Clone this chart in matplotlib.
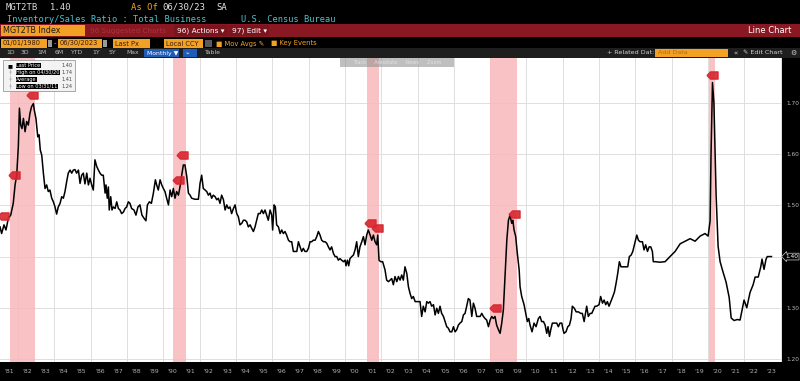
import numpy as np
import matplotlib.pyplot as plt
from matplotlib.patches import Rectangle

# monthly-ish readings of MGT2TB (decimal year, ratio)
years = [
    1981.00, 1981.09, 1981.22, 1981.33, 1981.46, 1981.59, 1981.73, 1981.83, 1981.92, 1982.01,
    1982.07, 1982.14, 1982.21, 1982.29, 1982.38, 1982.47, 1982.56, 1982.65, 1982.74, 1982.84,
    1982.89, 1982.98, 1983.08, 1983.15, 1983.22, 1983.30, 1983.39, 1983.48, 1983.57, 1983.66,
    1983.75, 1983.85, 1983.94, 1984.03, 1984.12, 1984.21, 1984.31, 1984.40, 1984.49, 1984.58,
    1984.67, 1984.76, 1984.86, 1984.95, 1985.04, 1985.13, 1985.22, 1985.32, 1985.41, 1985.50,
    1985.59, 1985.68, 1985.78, 1985.87, 1985.96, 1986.05, 1986.14, 1986.23, 1986.33, 1986.42,
    1986.51, 1986.60, 1986.69, 1986.79, 1986.84, 1986.91, 1986.97, 1987.02, 1987.10, 1987.17,
    1987.24, 1987.34, 1987.43, 1987.52, 1987.61, 1987.70, 1987.80, 1987.89, 1987.98, 1988.07,
    1988.16, 1988.25, 1988.38, 1988.49, 1988.60, 1988.71, 1988.82, 1988.93, 1989.04, 1989.12,
    1989.23, 1989.34, 1989.45, 1989.56, 1989.63, 1989.72, 1989.82, 1989.91, 1990.00, 1990.09,
    1990.18, 1990.28, 1990.37, 1990.46, 1990.55, 1990.64, 1990.73, 1990.83, 1990.92, 1991.01,
    1991.10, 1991.19, 1991.29, 1991.38, 1991.47, 1991.56, 1991.74, 1991.93, 1992.02, 1992.11,
    1992.20, 1992.30, 1992.39, 1992.48, 1992.57, 1992.66, 1992.75, 1992.85, 1992.94, 1993.03,
    1993.12, 1993.21, 1993.31, 1993.40, 1993.49, 1993.58, 1993.67, 1993.76, 1993.86, 1993.95,
    1994.04, 1994.13, 1994.22, 1994.32, 1994.41, 1994.50, 1994.59, 1994.68, 1994.78, 1994.87,
    1994.96, 1995.05, 1995.14, 1995.23,
    1995.33, 1995.42, 1995.51, 1995.60, 1995.69, 1995.78, 1995.88, 1995.97, 1996.02, 1996.10,
    1996.17, 1996.24, 1996.34, 1996.43, 1996.52, 1996.61, 1996.70, 1996.79, 1996.89, 1996.98,
    1997.07, 1997.16, 1997.25, 1997.35, 1997.44, 1997.53, 1997.62, 1997.71, 1997.80, 1997.90,
    1997.99, 1998.08, 1998.17, 1998.26, 1998.36, 1998.45, 1998.54, 1998.63, 1998.72, 1998.82,
    1998.91, 1999.00, 1999.09, 1999.18, 1999.27, 1999.37, 1999.46, 1999.55, 1999.64, 1999.73,
    1999.82, 1999.92, 2000.01, 2000.06, 2000.14, 2000.21, 2000.28, 2000.38, 2000.47, 2000.56,
    2000.65, 2000.74, 2000.83, 2000.93, 2001.02, 2001.11, 2001.20, 2001.29, 2001.39, 2001.48,
    2001.57, 2001.66, 2001.75, 2001.81, 2001.88, 2001.97, 2002.08, 2002.21, 2002.30, 2002.40,
    2002.49, 2002.58, 2002.67, 2002.76, 2002.86, 2002.95, 2003.04, 2003.13, 2003.22, 2003.31,
    2003.41, 2003.50, 2003.59, 2003.68, 2003.77, 2003.87, 2003.96, 2004.14, 2004.23, 2004.32,
    2004.42, 2004.51, 2004.60, 2004.69, 2004.78, 2004.88, 2004.97, 2005.06, 2005.15, 2005.24,
    2005.33, 2005.43, 2005.52, 2005.61, 2005.70, 2005.79, 2005.89, 2005.98, 2006.07, 2006.16,
    2006.25, 2006.34, 2006.44, 2006.53, 2006.62, 2006.71, 2006.80, 2006.89, 2006.99, 2007.08,
    2007.17, 2007.26, 2007.35, 2007.45, 2007.54, 2007.63, 2007.72, 2007.81, 2007.91, 2008.00,
    2008.09, 2008.18, 2008.27, 2008.36, 2008.46, 2008.55, 2008.64, 2008.73, 2008.82, 2008.92,
    2009.01, 2009.10, 2009.19, 2009.25, 2009.32, 2009.41, 2009.50, 2009.60,
    2009.65, 2009.74, 2009.87, 2009.98, 2010.05, 2010.13, 2010.20, 2010.31, 2010.42, 2010.53,
    2010.66, 2010.75, 2010.84, 2010.94, 2011.03, 2011.12, 2011.19, 2011.27, 2011.34, 2011.43,
    2011.54, 2011.67, 2011.76, 2011.85, 2011.95, 2012.00, 2012.07, 2012.18, 2012.28, 2012.37,
    2012.46, 2012.53, 2012.64, 2012.74, 2012.86, 2012.99, 2013.08, 2013.18, 2013.27, 2013.32,
    2013.41, 2013.51, 2013.60, 2013.69, 2013.78, 2013.87, 2014.00, 2014.09, 2014.19, 2014.28,
    2014.37, 2014.46, 2014.55, 2014.65, 2014.76, 2014.85, 2014.94, 2015.03, 2015.12, 2015.21,
    2015.34, 2015.49, 2015.58, 2015.67, 2015.77, 2015.86, 2015.95, 2016.08, 2016.17, 2016.26,
    2016.39, 2016.48, 2016.57, 2016.67, 2016.76, 2016.85, 2016.94, 2016.99, 2017.09,
    2017.36, 2017.64, 2017.91, 2018.19, 2018.47, 2018.74, 2019.02, 2019.29, 2019.57, 2019.84,
    2020.01, 2020.12, 2020.17, 2020.25, 2020.33, 2020.45, 2020.56, 2020.67, 2020.83, 2021.00,
    2021.17, 2021.28, 2021.44, 2021.61, 2021.77, 2021.99, 2022.14, 2022.32, 2022.49, 2022.60,
    2022.77, 2022.91, 2022.98, 2023.09, 2023.20, 2023.27, 2023.50,
]
ratio = [
    1.458, 1.445, 1.462, 1.452, 1.475, 1.481, 1.504, 1.540, 1.559, 1.615,
    1.690, 1.657, 1.650, 1.670, 1.644, 1.664, 1.657, 1.680, 1.693, 1.699,
    1.686, 1.670, 1.634, 1.638, 1.608, 1.598, 1.563, 1.533, 1.540, 1.527,
    1.530, 1.514, 1.507, 1.497, 1.483, 1.497, 1.504, 1.517, 1.514, 1.527,
    1.546, 1.563, 1.569, 1.563, 1.569, 1.570, 1.563, 1.569, 1.543, 1.559,
    1.563, 1.542, 1.563, 1.540, 1.553, 1.540, 1.530, 1.589, 1.576, 1.569,
    1.563, 1.559, 1.559, 1.524, 1.540, 1.514, 1.536, 1.491, 1.517, 1.491,
    1.497, 1.494, 1.507, 1.494, 1.491, 1.484, 1.487, 1.494, 1.497, 1.507,
    1.504, 1.494, 1.491, 1.481, 1.497, 1.501, 1.481, 1.475, 1.470, 1.501,
    1.507, 1.504, 1.524, 1.550, 1.540, 1.530, 1.550, 1.540, 1.533, 1.527,
    1.514, 1.501, 1.530, 1.517, 1.533, 1.514, 1.527, 1.520, 1.537, 1.559,
    1.579, 1.579, 1.556, 1.524, 1.520, 1.514, 1.512, 1.512, 1.543, 1.559,
    1.533, 1.530, 1.527, 1.520, 1.524, 1.514, 1.520, 1.517, 1.511, 1.514,
    1.504, 1.520, 1.511, 1.491, 1.501, 1.494, 1.497, 1.484, 1.494, 1.501,
    1.484, 1.478, 1.462, 1.465, 1.471, 1.471, 1.468, 1.458, 1.462, 1.455,
    1.449, 1.458, 1.471, 1.484,
    1.484, 1.491, 1.484, 1.491, 1.481, 1.471, 1.491, 1.481, 1.452, 1.501,
    1.497, 1.462, 1.458, 1.445, 1.452, 1.445, 1.449, 1.442, 1.432, 1.429,
    1.429, 1.410, 1.410, 1.410, 1.429, 1.419, 1.410, 1.416, 1.410, 1.410,
    1.416, 1.429, 1.429, 1.432, 1.432, 1.439, 1.449, 1.442, 1.432, 1.429,
    1.429, 1.426, 1.419, 1.413, 1.419, 1.406, 1.400, 1.400, 1.393, 1.396,
    1.393, 1.390, 1.393, 1.382, 1.393, 1.382, 1.396, 1.400, 1.403, 1.413,
    1.429, 1.400, 1.419, 1.429, 1.439, 1.423, 1.442, 1.452, 1.442, 1.432,
    1.442, 1.429, 1.423, 1.442, 1.393, 1.390, 1.390, 1.374, 1.354, 1.351,
    1.354, 1.357, 1.345, 1.361, 1.351, 1.361, 1.354, 1.364, 1.354, 1.380,
    1.367, 1.341, 1.328, 1.318, 1.322, 1.312, 1.312, 1.312, 1.283, 1.303,
    1.292, 1.312, 1.309, 1.312, 1.303, 1.306, 1.286, 1.299, 1.289, 1.303,
    1.289, 1.283, 1.273, 1.263, 1.260, 1.253, 1.253, 1.263, 1.253, 1.257,
    1.266, 1.270, 1.273, 1.286, 1.289, 1.303, 1.318, 1.315, 1.283, 1.309,
    1.299, 1.283, 1.283, 1.283, 1.289, 1.283, 1.279, 1.276, 1.263, 1.276,
    1.283, 1.279, 1.283, 1.266, 1.257, 1.250, 1.270, 1.296, 1.361, 1.432,
    1.471, 1.481, 1.465, 1.471, 1.452, 1.439, 1.406, 1.374,
    1.341, 1.322, 1.306, 1.286, 1.273, 1.279, 1.266, 1.253, 1.270, 1.263,
    1.279, 1.283, 1.273, 1.273, 1.266, 1.250, 1.263, 1.244, 1.257, 1.270,
    1.270, 1.270, 1.263, 1.270, 1.270, 1.260, 1.250, 1.253, 1.263, 1.266,
    1.279, 1.303, 1.299, 1.292, 1.292, 1.289, 1.289, 1.273, 1.292, 1.303,
    1.283, 1.289, 1.289, 1.296, 1.303, 1.303, 1.306, 1.322, 1.309, 1.315,
    1.306, 1.312, 1.303, 1.312, 1.322, 1.331, 1.348, 1.367, 1.390, 1.380,
    1.380, 1.380, 1.380, 1.400, 1.403, 1.410, 1.423, 1.442, 1.432, 1.429,
    1.429, 1.413, 1.423, 1.410, 1.419, 1.419, 1.410, 1.390, 1.390,
    1.389, 1.390, 1.400, 1.410, 1.425, 1.430, 1.435, 1.430, 1.440, 1.445,
    1.440, 1.470, 1.600, 1.740, 1.700, 1.520, 1.420, 1.390, 1.370, 1.350,
    1.320, 1.280, 1.275, 1.277, 1.276, 1.315, 1.300, 1.330, 1.345, 1.360,
    1.360, 1.380, 1.395, 1.375, 1.395, 1.400, 1.400,
]

rec_start = [1981.55, 1990.55, 2001.20, 2007.98, 2020.08]
rec_end = [1982.92, 1991.22, 2001.90, 2009.47, 2020.38]

event_years = [1981.18, 1981.77, 1982.76, 1990.83, 1991.05, 2001.40, 2001.75, 2008.27, 2009.32, 2020.23]
event_vals = [1.479, 1.559, 1.716, 1.550, 1.598, 1.466, 1.456, 1.300, 1.483, 1.755]

y_ticks = [1.20, 1.30, 1.40, 1.50, 1.60, 1.70]
label_years = list(range(1981, 2024))
legend_rows = [("Last Price", "1.40"), ("High on 04/30/20", "1.74"),
               ("Average", "1.41"), ("Low on 03/31/11", "1.24")]

W, H = 800, 381
ORANGE = "#f3a125"
fig = plt.figure(figsize=(W / 100, H / 100), dpi=100, facecolor="black")


def box(x, y, w, h, color, **kw):
    kw.setdefault("linewidth", 0)
    fig.add_artist(Rectangle((x / W, 1 - (y + h) / H), w / W, h / H,
                             transform=fig.transFigure, facecolor=color, **kw))


def txt(x, y, s, color, size=6.0, family="DejaVu Sans", **kw):
    fig.text(x / W, 1 - y / H, s, color=color, fontsize=size, family=family, va="center", **kw)


# header lines
mono = "DejaVu Sans Mono"
txt(6, 7, "MGT2TB", "#dcdcdc", 6.4, mono)
txt(50, 7, "1.40", "#dcdcdc", 6.4, mono)
txt(131, 7, "As Of", ORANGE, 6.4, mono)
txt(162, 7, "06/30/23", "#e6e6e6", 6.4, mono)
txt(216, 7, "SA", "#e6e6e6", 6.4, mono)
txt(7, 19, "Inventory/Sales Ratio : Total Business", "#4cc3cf", 6.2, mono)
txt(241, 19, "U.S. Census Bureau", "#4cc3cf", 6.2, mono)

# red command bar
box(0, 24, W, 13, "#8a1822")
box(1, 25, 84, 11, ORANGE)
txt(3, 30.5, "MGT2TB Index", "#1a1a1a", 5.8)
txt(90, 30.5, "96 Suggested Charts", "#a8343c", 5.2)
box(174, 25, 54, 11, "#7a141d")
txt(177, 30.5, "96) Actions ▾", "white", 5.3)
box(229, 25, 40, 11, "#7a141d")
txt(232, 30.5, "97) Edit ▾", "white", 5.3)
txt(791, 30.5, "Line Chart", "white", 6.0, ha="right")

# date / field row
box(1, 39, 46, 9, ORANGE)
txt(3, 43.5, "01/01/1980", "#3a1a10", 4.8)
box(48, 40, 4, 7, "#9a9a9a")
txt(54, 43.5, "-", "#cccccc", 5.0)
box(58, 39, 44, 9, ORANGE)
txt(60, 43.5, "06/30/2023", "#3a1a10", 4.8)
box(103, 40, 4, 7, "#9a9a9a")
box(113, 39, 37, 9, ORANGE)
txt(115, 43.5, "Last Px", "#3a1a10", 4.8)
box(164, 39, 39, 9, ORANGE)
txt(166, 43.5, "Local CCY", "#3a1a10", 4.8)
box(205, 40, 7, 7, "#5a5a5a")
txt(216, 43.5, "■ Mov Avgs ✎", ORANGE, 4.9)
txt(271, 43.5, "■ Key Events", ORANGE, 4.9)

# period toolbar
box(0, 48, W, 10, "#1e1e1e")
for xp, lab in zip([6, 21, 37, 55, 71, 92, 109, 126], ["1D", "3D", "1M", "6M", "YTD", "1Y", "5Y", "Max"]):
    txt(xp, 53, lab, "#bdbdbd", 4.4)
box(144, 49, 35, 8, "#1f5cb8")
txt(147, 53, "Monthly ▼", "white", 4.4)
box(183, 49, 14, 8, "#1f5cb8")
txt(186, 53, "⌁", "white", 4.4)
txt(205, 53, "Table", "#bdbdbd", 4.4)
txt(607, 53, "+ Related Dat:", "#d0d0d0", 4.6)
box(655, 49, 73, 8, ORANGE)
txt(658, 53, "Add Data", "#b06a10", 4.6)
txt(734, 53, "«", "#d0d0d0", 5.0)
txt(743, 53, "✎ Edit Chart", "#d0d0d0", 4.6)
txt(790, 53, "⚙", "#d0d0d0", 5.0)

# chart
ax = fig.add_axes([0, (H - 362) / H, 782 / W, 304 / H])
ax.set_facecolor("white")
for a, b in zip(rec_start, rec_end):
    ax.axvspan(a, b, color="#f9b8bb", alpha=0.85, lw=0, zorder=1)
ax.plot(years, ratio, color="black", lw=1.1, zorder=3)
tag = [(-1, 0), (-0.35, 0.65), (1, 0.65), (1, -0.65), (-0.35, -0.65), (-1, 0)]
ax.plot(event_years, event_vals, ls="none", marker=tag, ms=8, color="#d7262e", alpha=0.9, zorder=4)

ax.set_xlim(1981.0, 2024.08)
ax.set_ylim(1.194, 1.788)
ax.set_xticks(np.arange(1982, 2025, 2))
ax.set_xticklabels([])
ax.set_xticks([y + 0.5 for y in label_years], minor=True)
ax.set_xticklabels(["'%02d" % (y % 100) for y in label_years], minor=True)
ax.tick_params(axis="x", which="both", length=0, pad=5, labelsize=4.5, labelcolor="#b0b0b0")
ax.yaxis.tick_right()
ax.set_yticks(y_ticks)
# the last-price tag sits where the 1.40 label would be
ax.set_yticklabels(["" if abs(v - ratio[-1]) < 0.03 else "%.2f" % v for v in y_ticks])
ax.tick_params(axis="y", length=0, pad=3, labelsize=4.2, labelcolor="#b8b8b8")
ax.grid(True, which="major", color="#dedede", lw=0.7)
ax.set_axisbelow(True)
for s in ax.spines.values():
    s.set_visible(False)

ax.text(1.004, ratio[-1], "%.2f" % ratio[-1], transform=ax.get_yaxis_transform(),
        fontsize=4.2, color="white", va="center", ha="left", clip_on=False,
        bbox=dict(boxstyle="larrow,pad=0.15", fc="black", ec="#d0d0d0", lw=0.5))

# legend box
box(3, 60, 72, 31, "#f3f3f3", edgecolor="#9a9a9a", linewidth=0.6)
for i, (lab, val) in enumerate(legend_rows):
    yy = 65.5 + i * 7
    txt(8, yy, "■" if i == 0 else "┼", "black" if i == 0 else "#888888", 3.8)
    txt(16, yy, lab, "white", 3.6, bbox=dict(boxstyle="square,pad=0.08", fc="black", ec="none"))
    txt(73, yy, val, "#444444", 3.6, ha="right")

# floating toolbar
box(340, 58, 114, 9, "#8c8c8c", alpha=0.55)
txt(397, 62.5, "Track     Annotate     News     Zoom", "#e2e2e2", 3.6, ha="center")

fig.savefig("out.png", dpi=100, facecolor="black")
